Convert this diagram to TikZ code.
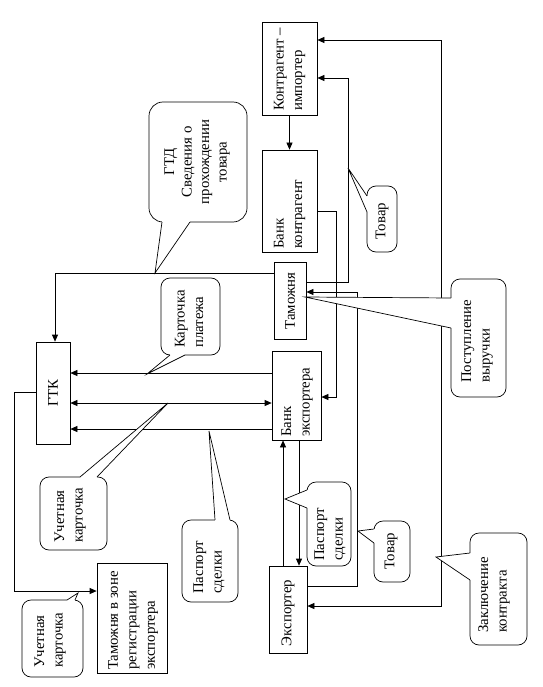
\documentclass[tikz,border=0pt]{standalone}
\usepackage{fontspec}
\setmainfont{Liberation Serif}
\newfontfamily\rufont{Liberation Serif}
\usetikzlibrary{arrows.meta}
\newcommand\fs{\rufont\fontsize{14.8}{18.5}\selectfont}
\newcommand\ptr[3]{%
  \fill[white] (#1) -- (#2) -- (#3) -- cycle;
  \draw[white, line width=1.8pt] (#1) -- (#3);
  \draw[ln, line join=miter] (#1) -- (#2) -- (#3);}
\tikzset{
  ln/.style={line width=0.7pt},
  box/.style={draw, line width=0.7pt, inner sep=0pt},
  txt/.style={rotate=90, inner sep=0pt, font=\fs, align=left},
  ctxt/.style={rotate=90, inner sep=0pt, font=\fs, align=center},
  co/.style={draw, fill=white, rounded corners=9pt, line width=0.7pt, inner sep=0pt},
  tip/.tip={Triangle[length=7pt,width=6pt]},
  arr/.style={ln, -tip},
  darr/.style={ln, tip-tip},
}
\begin{document}
\begin{tikzpicture}[x=1pt,y=-1pt]
\useasboundingbox (0,0) rectangle (542,687);

% boxes
\node[box, minimum width=55pt, minimum height=93pt] (imp) at (289.5,68.5) {};
\node[box, minimum width=55pt, minimum height=102pt] (bk) at (289.5,201) {};
\node[box, minimum width=32pt, minimum height=77pt] (tam) at (290,300.5) {};
\node[box, minimum width=34pt, minimum height=102pt] (gtk) at (53,393) {};
\node[box, minimum width=49pt, minimum height=89pt] (be) at (296.5,395.5) {};
\node[box, minimum width=38pt, minimum height=87pt] (exp) at (288,609.5) {};
\node[box, minimum width=70pt, minimum height=110pt] (tz) at (132,618) {};

\node[txt, anchor=west] (impt) at (289.5,111) {Контрагент –\\импортер};
\node[txt, anchor=west] (bkt) at (289.5,249) {Банк\\контрагент};
\node[ctxt] (tamt) at (290,301) {Таможня};
\node[ctxt] (gtkt) at (53,393) {ГТК};
\node[txt, anchor=west] (bet) at (297,437) {Банк\\экспортера};
\node[ctxt] (expt) at (288,613) {Экспортер};
\node[txt, anchor=west] (tzt) at (133,670) {Таможня в зоне\\регистрации\\экспортера};

% connectors
\draw[darr] (exp.east |- 0,606) -- (441,606) -- (441,40) -- (imp.east |- 0,40);
\draw[arr] (tam.east |- 0,282) -- (348,282) -- (348,78) -- (imp.east |- 0,78);
\draw[arr] (exp.east |- 0,586) -- (357,586) -- (357,292) -- (tam.east |- 0,292);
\draw[arr] (bk.east |- 0,211) -- (336,211) -- (336,397) -- (be.east |- 0,397);
\draw[arr] (imp.south) -- (bk.north);
\draw[arr] (tam.west |- 0,273) -- (55,273) -- (gtk.north -| 55,0);
\draw[arr] (be.west |- 0,373) -- (gtk.east |- 0,373);
\draw[darr] (gtk.east |- 0,403) -- (be.west |- 0,403);
\draw[arr] (be.west |- 0,429) -- (gtk.east |- 0,429);
\draw[arr] (gtk.west |- 0,392) -- (14,392) -- (14,591) -- (tz.west |- 0,591);
\draw[arr] (exp.north -| 283,0) -- (be.south -| 283,0);
\draw[arr] (be.south -| 299,0) -- (exp.north -| 299,0);

% callouts
\node[co, rounded corners=14pt, minimum width=98pt, minimum height=120pt] (gtd) at (198,162) {};
\ptr{162,222}{155,273}{190,222}
\node[ctxt, font=\rufont\fontsize{14.8}{17.5}\selectfont] (gtdt) at (197,162) {ГТД\\Сведения о\\прохождении\\товара};

\node[co, minimum width=30pt, minimum height=66pt] (tv1) at (382,219) {};
\ptr{367,196}{348,168}{367,212}
\node[ctxt] (tv1t) at (382,221) {Товар};

\node[co, minimum width=59pt, minimum height=77pt] (kp) at (190.5,316.5) {};
\ptr{170,355}{147,374}{185,355}
\node[txt, anchor=west] (kpt) at (189,348) {Карточка\\платежа};

\node[co, minimum width=55pt, minimum height=118pt] (pv) at (478.5,338) {};
\ptr{451,298}{305,297}{451,328}
\node[txt, anchor=west] (pvt) at (477,383) {Поступление\\выручки};

\node[co, minimum width=67pt, minimum height=73pt] (uk1) at (73.5,513.5) {};
\ptr{80,477}{168,403}{97,477}
\node[txt, anchor=west] (uk1t) at (70,543) {Учетная\\карточка};

\node[co, minimum width=56pt, minimum height=82pt] (ps1) at (210,561) {};
\ptr{215,520}{209,431}{230,520}
\node[txt, anchor=west] (ps1t) at (209,594) {Паспорт\\сделки};

\node[co, minimum width=44pt, minimum height=84pt] (ps2) at (329,524) {};
\ptr{307,490}{285,499}{307,508}
\node[txt, anchor=west] (ps2t) at (330,561) {Паспорт\\сделки};

\node[co, minimum width=36pt, minimum height=61pt] (tv2) at (392,551.5) {};
\ptr{374,529}{358,531}{374,543}
\node[ctxt] (tv2t) at (391,551) {Товар};

\node[co, minimum width=57pt, minimum height=112pt] (zk) at (498.5,589) {};
\ptr{470,553}{436,557}{470,580}
\node[txt, anchor=west] (zkt) at (494,633) {Заключение\\контракта};

\node[co, minimum width=61pt, minimum height=77pt] (uk2) at (52.5,638.5) {};
\ptr{67,600}{78,593}{75,600}
\node[txt, anchor=west] (uk2t) at (50,668) {Учетная\\карточка};
\end{tikzpicture}
\end{document}
